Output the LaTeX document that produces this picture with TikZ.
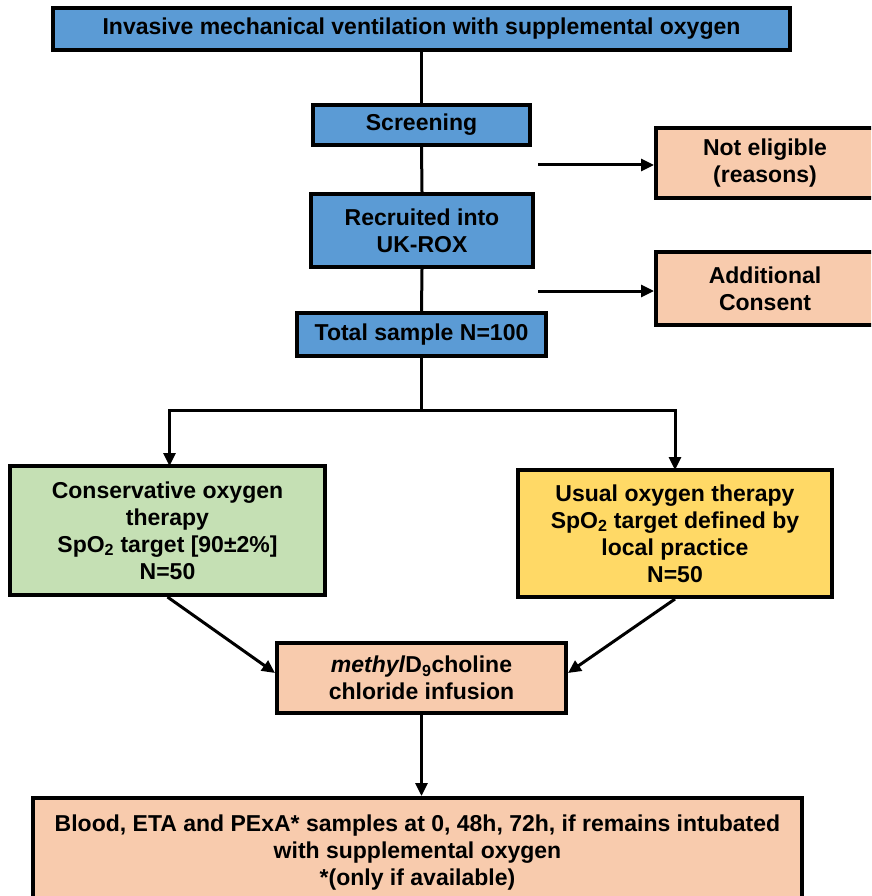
\documentclass[tikz,border=0pt]{standalone}
\usepackage{fontspec}
\setmainfont{Liberation Sans}
\usetikzlibrary{arrows.meta}
\definecolor{boxblue}{HTML}{5B9BD5}
\definecolor{boxpeach}{HTML}{F8CBAD}
\definecolor{boxgreen}{HTML}{C5E0B4}
\definecolor{boxyellow}{HTML}{FFD966}
\tikzset{
  fbox/.style={draw=black, line width=4pt, align=center, inner sep=0pt,
    font=\bfseries\fontsize{23}{27}\selectfont, text=black},
  bluebox/.style={fbox, fill=boxblue},
  peachbox/.style={fbox, fill=boxpeach},
  conn/.style={line width=3pt},
  arr/.style={line width=3pt, -{Triangle[length=13pt,width=12pt]}},
}
\begin{document}
\begin{tikzpicture}[x=1pt, y=-1pt]
\useasboundingbox (0,0) rectangle (871,896);
\clip (0,0) rectangle (871,896);
\node[bluebox, minimum width=737, minimum height=42] (top) at (421.5,29)
  {Invasive mechanical ventilation with supplemental oxygen};
\node[bluebox, minimum width=217, minimum height=40] (screen) at (421.5,125) {Screening};
\node[bluebox, minimum width=222, minimum height=73] (recr) at (422,230.5) {Recruited into\\UK-ROX};
\node[bluebox, minimum width=249, minimum height=43] (total) at (421.5,334.5) {Total sample N=100};
\node[peachbox, minimum width=218, minimum height=70] (noteli) at (765,163) {Not eligible\\(reasons)};
\node[peachbox, minimum width=218, minimum height=73] (addc) at (765,288.5) {Additional\\Consent};
\node[fbox, fill=boxgreen, minimum width=315, minimum height=129] (cons) at (167.5,530.5)
  {Conservative oxygen\\therapy\\SpO\textsubscript{2} target [90±2\%]\\N=50};
\node[fbox, fill=boxyellow, minimum width=314, minimum height=127] (usual) at (675,533.5)
  {Usual oxygen therapy\\SpO\textsubscript{2} target defined by\\local practice\\N=50};
\node[peachbox, minimum width=289, minimum height=70] (meth) at (421.5,678)
  {\textit{methyl}D\textsubscript{9}choline\\chloride infusion};
\node[peachbox, minimum width=769, minimum height=110] (bottom) at (417.5,853)
  {Blood, ETA and PExA* samples at 0, 48h, 72h, if remains intubated\\with supplemental oxygen\\*(only if available)};
\coordinate (ne0) at (538,165);
\coordinate (ac0) at (538,291);
\coordinate (split) at (421.5,410);
\draw[conn] (top.south) -- (screen.north);
\draw[conn] (screen.south) -- (recr.north);
\draw[conn] (recr.south) -- (total.north);
\draw[conn] (total.south) -- (split);
\draw[arr] (ne0) -- (ne0 -| noteli.west);
\draw[arr] (ac0) -- (ac0 -| addc.west);
\draw[arr] (split) -| ([xshift=2pt,yshift=-2pt]cons.north);
\draw[arr] (split) -| ([yshift=-2pt]usual.north);
\draw[arr] (cons.south) -- ([yshift=5pt]meth.west);
\draw[arr] (usual.south) -- ([yshift=5pt]meth.east);
\draw[arr] (meth.south) -- (meth.south |- bottom.north);
\end{tikzpicture}
\end{document}
